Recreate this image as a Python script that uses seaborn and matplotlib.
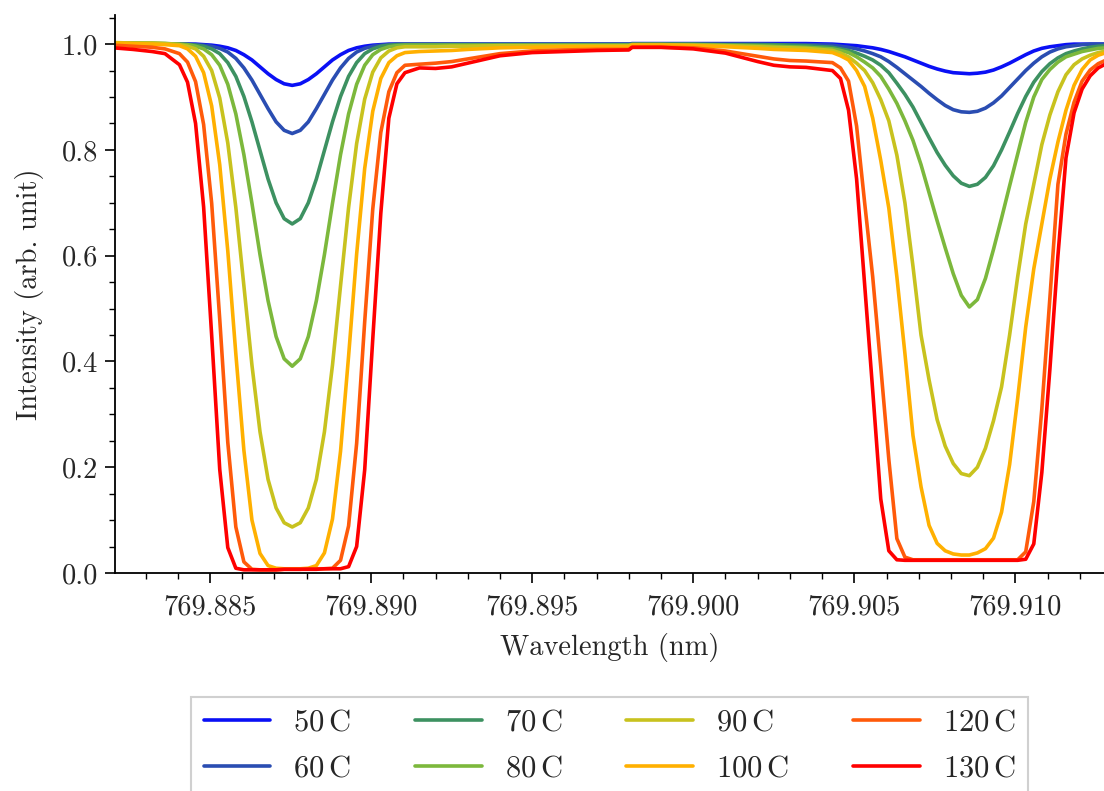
"""
Potassium absorption spectra vs. cell temperature
"""

import matplotlib
matplotlib.use('Agg')
import matplotlib.pyplot as plt
from matplotlib.ticker import MultipleLocator, FormatStrFormatter
import numpy as np
import pandas as pd
import seaborn as sns

# ============================================================================
# DATA
# ============================================================================

wavelength = [
    769.8820, 769.8826, 769.8832, 769.8836,
    769.88405, 769.88430, 769.88455, 769.88480, 769.88505, 769.88530, 769.88555,
    769.88580, 769.88605, 769.88630, 769.88655, 769.88680, 769.88705, 769.88730,
    769.88755, 769.88780, 769.88805, 769.88830, 769.88855, 769.88880, 769.88905,
    769.88930, 769.88955, 769.88980, 769.89005, 769.89030, 769.89055, 769.89080,
    769.89105,
    769.8915, 769.8920, 769.8925, 769.8930, 769.8940, 769.8950, 769.8960,
    769.8970, 769.8980, 769.8981, 769.8990, 769.9000, 769.9010, 769.9020,
    769.9025, 769.9030, 769.9035,
    769.90432, 769.90457, 769.90482, 769.90507, 769.90532, 769.90557, 769.90582,
    769.90607, 769.90632, 769.90657, 769.90682, 769.90707, 769.90732, 769.90757,
    769.90782, 769.90807, 769.90832, 769.90857, 769.90882, 769.90907, 769.90932,
    769.90957, 769.90982, 769.91007, 769.91032, 769.91057, 769.91082, 769.91107,
    769.91132, 769.91157, 769.91182, 769.91207, 769.91232, 769.91257, 769.91282,
]

temperatures = ['50', '60', '70', '80', '90', '100', '120', '130']

i_50 = [
    1.000, 1.000, 1.000, 1.000,
    1.000, 1.000, 1.000, 0.999, 0.998, 0.996, 0.993, 0.988, 0.980, 0.970,
    0.957, 0.944, 0.933, 0.925, 0.922, 0.925, 0.933, 0.944, 0.957, 0.970,
    0.980, 0.988, 0.993, 0.996, 0.998, 0.999, 1.000, 1.000, 1.000,
    1.000, 1.000, 1.000, 1.000, 1.000, 1.000, 1.000, 1.000, 1.000,
    1.001, 1.001, 1.001, 1.001, 1.001, 1.001, 1.001, 1.001,
    1.000, 0.999, 0.998, 0.997, 0.995, 0.993, 0.990, 0.986, 0.981, 0.976,
    0.970, 0.964, 0.958, 0.953, 0.949, 0.946, 0.945, 0.944, 0.945, 0.947,
    0.951, 0.957, 0.964, 0.972, 0.980, 0.987, 0.992, 0.995, 0.997, 0.999,
    1.000, 1.000, 1.000, 1.000, 1.000,
]

i_60 = [
    1.001, 1.001, 1.001, 1.000,
    1.000, 1.000, 0.999, 0.998, 0.996, 0.992, 0.985, 0.973, 0.955, 0.932,
    0.905, 0.878, 0.853, 0.837, 0.831, 0.837, 0.853, 0.878, 0.905, 0.932,
    0.955, 0.973, 0.985, 0.992, 0.996, 0.998, 0.999, 1.000, 1.000,
    1.000, 1.000, 1.000, 1.000, 1.000, 1.000, 1.000, 1.000, 1.000,
    1.000, 1.000, 1.000, 1.000, 1.000, 0.999, 0.999, 0.999,
    0.998, 0.996, 0.994, 0.991, 0.987, 0.982, 0.976, 0.967, 0.956, 0.944,
    0.932, 0.920, 0.907, 0.895, 0.884, 0.876, 0.872, 0.871, 0.873, 0.879,
    0.889, 0.902, 0.918, 0.934, 0.950, 0.964, 0.976, 0.985, 0.991, 0.995,
    0.997, 0.999, 1.000, 1.000, 1.000,
]

i_70 = [
    1.002, 1.002, 1.001, 1.001,
    1.000, 0.999, 0.998, 0.996, 0.991, 0.982, 0.965, 0.939, 0.901, 0.853,
    0.799, 0.745, 0.700, 0.670, 0.660, 0.670, 0.700, 0.745, 0.799, 0.853,
    0.901, 0.939, 0.965, 0.982, 0.991, 0.996, 0.998, 0.999, 0.999,
    0.999, 0.999, 0.999, 0.999, 0.999, 0.999, 0.999, 0.999, 0.999,
    1.000, 1.000, 1.000, 0.999, 0.999, 0.999, 0.998, 0.997,
    0.994, 0.991, 0.988, 0.983, 0.977, 0.970, 0.960, 0.946, 0.926, 0.905,
    0.881, 0.852, 0.823, 0.795, 0.771, 0.751, 0.737, 0.731, 0.735, 0.748,
    0.770, 0.800, 0.834, 0.869, 0.901, 0.928, 0.948, 0.963, 0.974, 0.982,
    0.987, 0.991, 0.994, 0.996, 0.997,
]

i_80 = [
    1.002, 1.002, 1.002, 1.001,
    1.000, 0.999, 0.996, 0.991, 0.980, 0.960, 0.924, 0.868, 0.791, 0.699,
    0.602, 0.515, 0.447, 0.405, 0.391, 0.405, 0.447, 0.515, 0.602, 0.699,
    0.791, 0.868, 0.924, 0.960, 0.980, 0.990, 0.995, 0.997, 0.998,
    0.998, 0.998, 0.998, 0.998, 0.998, 0.998, 0.998, 0.998, 0.998,
    0.999, 0.999, 0.999, 0.998, 0.997, 0.996, 0.995, 0.994,
    0.991, 0.988, 0.984, 0.976, 0.966, 0.955, 0.939, 0.915, 0.888, 0.855,
    0.818, 0.772, 0.719, 0.666, 0.615, 0.566, 0.525, 0.503, 0.517, 0.557,
    0.612, 0.671, 0.732, 0.792, 0.852, 0.900, 0.933, 0.952, 0.966, 0.976,
    0.981, 0.986, 0.989, 0.992, 0.993,
]

i_90 = [
    1.003, 1.002, 1.002, 1.001,
    0.999, 0.996, 0.991, 0.977, 0.950, 0.898, 0.813, 0.691, 0.543, 0.393,
    0.267, 0.177, 0.123, 0.095, 0.087, 0.095, 0.123, 0.177, 0.267, 0.393,
    0.543, 0.691, 0.812, 0.896, 0.947, 0.974, 0.987, 0.993, 0.995,
    0.995, 0.995, 0.996, 0.996, 0.997, 0.997, 0.997, 0.997, 0.997,
    0.999, 0.999, 0.998, 0.997, 0.995, 0.994, 0.993, 0.992,
    0.988, 0.983, 0.976, 0.964, 0.950, 0.927, 0.895, 0.855, 0.790, 0.700,
    0.580, 0.450, 0.365, 0.290, 0.240, 0.207, 0.188, 0.184, 0.200, 0.236,
    0.288, 0.352, 0.450, 0.560, 0.660, 0.735, 0.810, 0.866, 0.910, 0.942,
    0.961, 0.972, 0.979, 0.984, 0.987,
]

i_100 = [
    1.002, 1.001, 1.000, 0.999,
    0.997, 0.991, 0.977, 0.946, 0.883, 0.772, 0.609, 0.414, 0.232, 0.100,
    0.037, 0.014, 0.009, 0.008, 0.008, 0.008, 0.009, 0.014, 0.038, 0.102,
    0.230, 0.410, 0.603, 0.765, 0.873, 0.935, 0.965, 0.978, 0.984,
    0.986, 0.987, 0.988, 0.990, 0.993, 0.994, 0.995, 0.995, 0.995,
    0.998, 0.998, 0.997, 0.995, 0.992, 0.990, 0.989, 0.988,
    0.984, 0.978, 0.970, 0.950, 0.920, 0.860, 0.780, 0.690, 0.560, 0.415,
    0.260, 0.163, 0.090, 0.056, 0.042, 0.036, 0.034, 0.034, 0.038, 0.046,
    0.066, 0.115, 0.205, 0.330, 0.465, 0.575, 0.660, 0.745, 0.815, 0.875,
    0.922, 0.952, 0.970, 0.979, 0.984,
]

i_120 = [
    0.998, 0.996, 0.994, 0.991,
    0.982, 0.966, 0.929, 0.848, 0.699, 0.480, 0.247, 0.087, 0.021, 0.007,
    0.006, 0.006, 0.006, 0.007, 0.007, 0.007, 0.008, 0.008, 0.008, 0.009,
    0.024, 0.089, 0.245, 0.475, 0.688, 0.833, 0.910, 0.946, 0.960,
    0.962, 0.964, 0.967, 0.972, 0.982, 0.987, 0.989, 0.990, 0.990,
    0.994, 0.994, 0.993, 0.987, 0.977, 0.972, 0.969, 0.968,
    0.965, 0.955, 0.930, 0.845, 0.700, 0.560, 0.390, 0.215, 0.065, 0.030,
    0.025, 0.025, 0.025, 0.025, 0.025, 0.025, 0.025, 0.025, 0.025, 0.025,
    0.025, 0.025, 0.025, 0.025, 0.040, 0.135, 0.310, 0.520, 0.735, 0.830,
    0.890, 0.930, 0.951, 0.963, 0.970,
]

i_130 = [
    0.993, 0.990, 0.986, 0.982,
    0.961, 0.928, 0.850, 0.692, 0.449, 0.196, 0.048, 0.009, 0.006, 0.006,
    0.006, 0.006, 0.006, 0.007, 0.007, 0.007, 0.007, 0.007, 0.008, 0.008,
    0.008, 0.012, 0.050, 0.195, 0.442, 0.680, 0.860, 0.925, 0.946,
    0.955, 0.954, 0.957, 0.964, 0.978, 0.984, 0.986, 0.988, 0.989,
    0.994, 0.994, 0.991, 0.983, 0.967, 0.960, 0.957, 0.956,
    0.950, 0.935, 0.875, 0.745, 0.545, 0.345, 0.140, 0.042, 0.025, 0.024,
    0.024, 0.024, 0.024, 0.024, 0.024, 0.024, 0.024, 0.024, 0.024, 0.024,
    0.024, 0.024, 0.024, 0.024, 0.026, 0.055, 0.190, 0.385, 0.600, 0.785,
    0.870, 0.915, 0.940, 0.955, 0.963,
]

colors = ['#0a10f5', '#2a4db2', '#3d9161', '#7cb83c',
          '#c8c21e', '#ffb000', '#ff5a0a', '#ff0000']

# ============================================================================
# STYLE
# ============================================================================

sns.set_theme(style='ticks')
plt.rcParams['font.family'] = ['cmr10', 'DejaVu Serif']
plt.rcParams['mathtext.fontset'] = 'cm'
plt.rcParams['axes.formatter.use_mathtext'] = True
plt.rcParams['font.size'] = 20.5

# ============================================================================
# PLOT
# ============================================================================

def plot_spectra():
    series = [i_50, i_60, i_70, i_80, i_90, i_100, i_120, i_130]
    labels = [f'{t}$\\,$C' for t in temperatures]

    df = pd.DataFrame({
        'Wavelength': wavelength * len(series),
        'Intensity': np.concatenate(series),
        'Temperature': np.repeat(labels, len(wavelength)),
    })

    fig = plt.figure(figsize=(11.04, 7.91), dpi=100)
    ax = fig.add_axes([0.1042, 0.2756, 0.8958, 0.7054])

    sns.lineplot(data=df, x='Wavelength', y='Intensity', hue='Temperature',
                 hue_order=labels, palette=colors, linewidth=2.6,
                 estimator=None, ax=ax)

    ax.set_xlim(769.88205, 769.91275)
    ax.set_ylim(0, 1.055)
    ax.xaxis.set_major_locator(MultipleLocator(0.005))
    ax.xaxis.set_minor_locator(MultipleLocator(0.001))
    ax.yaxis.set_major_locator(MultipleLocator(0.2))
    ax.yaxis.set_minor_locator(MultipleLocator(0.05))
    ax.xaxis.set_major_formatter(FormatStrFormatter('%.3f'))
    ax.yaxis.set_major_formatter(FormatStrFormatter('%.1f'))
    ax.tick_params(which='major', direction='out', length=7, width=1.2,
                   labelsize=20.5, color='black')
    ax.tick_params(axis='x', which='major', pad=8)
    ax.tick_params(axis='y', which='major', pad=5)
    ax.tick_params(which='minor', direction='out', length=4, width=1.0,
                   color='black')
    for side in ['left', 'bottom']:
        ax.spines[side].set_linewidth(1.3)
        ax.spines[side].set_color('black')
    sns.despine(ax=ax)

    ax.set_xlabel('Wavelength (nm)', fontsize=20.5, labelpad=9)
    ax.set_ylabel('Intensity (arb. unit)', fontsize=20.5, labelpad=13)

    handles, _ = ax.get_legend_handles_labels()
    for h in handles:
        h.set_linewidth(2.6)
    leg = ax.legend(handles, labels, ncol=4, loc='upper center',
                    bbox_to_anchor=(0.5, -0.222), frameon=True, fancybox=False,
                    edgecolor='#d0d0d0', framealpha=1, fontsize=22,
                    handlelength=2.19, handletextpad=0.75, columnspacing=2.1,
                    borderpad=0.4, labelspacing=0.6, borderaxespad=0)
    leg.get_frame().set_linewidth(1.5)

    fig.savefig('out.png', dpi=100)
    plt.close(fig)


if __name__ == '__main__':
    plot_spectra()
